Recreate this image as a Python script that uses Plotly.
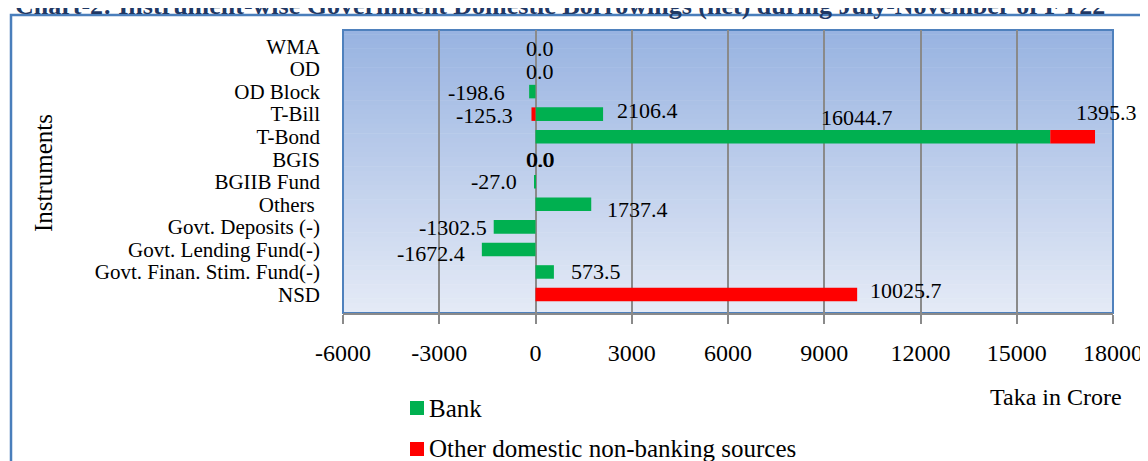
import plotly.graph_objects as go

# ---- data ----
instruments = ["WMA", "OD", "OD Block", "T-Bill", "T-Bond", "BGIS", "BGIIB Fund", "Others ",
               "Govt. Deposits (-)", "Govt. Lending Fund(-)", "Govt. Finan. Stim. Fund(-)", "NSD"]
bank = [0.0, 0.0, -198.6, 2106.4, 16044.7, 0.0, -27.0, 1737.4, -1302.5, -1672.4, 573.5, 0.0]
other = [0.0, 0.0, 0.0, -125.3, 1395.3, 0.0, 0.0, 0.0, 0.0, 0.0, 0.0, 10025.7]
x_ticks = [-6000, -3000, 0, 3000, 6000, 9000, 12000, 15000, 18000]

FONT = "Liberation Serif, Times New Roman, serif"
GREEN = "#00B050"
RED = "#FF0000"

OFF = 8  # page body margin
W, H = 1148, 461
L, R, T, B = 343 - OFF, 43, 30 - OFF, 156
PW, PH = W - L - R, H - T - B


def px(xp):
    return (xp - OFF - L) / PW


def py(yp):
    return (H - B - (yp - OFF)) / PH


fig = go.Figure()
fig.add_trace(go.Bar(y=instruments, x=bank, orientation="h", name="Bank",
                     marker=dict(color=GREEN, line=dict(width=0)), width=0.6,
                     showlegend=False))
fig.add_trace(go.Bar(y=instruments, x=other, orientation="h",
                     name="Other domestic non-banking sources",
                     marker=dict(color=RED, line=dict(width=0)), width=0.6,
                     showlegend=False))

shapes = []
# gradient background of plot area
N = 60
top = (152, 179, 225)
bot = (228, 234, 246)
for i in range(N):
    f = i / (N - 1)
    c = tuple(round(top[k] + (bot[k] - top[k]) * f) for k in range(3))
    shapes.append(dict(type="rect", xref="x domain", yref="y domain",
                       x0=0, x1=1, y0=1 - (i + 1) / N, y1=1 - i / N + 0.002,
                       fillcolor="rgb(%d,%d,%d)" % c, line=dict(width=0), layer="below"))
# plot border (blue)
shapes.append(dict(type="rect", xref="x domain", yref="y domain", x0=0, x1=1, y0=0, y1=1,
                   line=dict(color="#4F81BD", width=2), layer="below"))
# outer chart border
shapes.append(dict(type="rect", xref="paper", yref="paper",
                   x0=px(11), x1=px(1200), y0=py(520), y1=py(15),
                   line=dict(color="#4A7EBB", width=2.5)))
# legend swatches
shapes.append(dict(type="rect", xref="paper", yref="paper",
                   x0=px(410), x1=px(424), y0=py(415), y1=py(401),
                   fillcolor=GREEN, line=dict(width=0)))
shapes.append(dict(type="rect", xref="paper", yref="paper",
                   x0=px(410), x1=px(424), y0=py(456), y1=py(442),
                   fillcolor=RED, line=dict(width=0)))

ann = []
LBL = dict(family=FONT, size=22, color="black")


def lab(x, y, text, xanchor, xshift=0, yshift=0):
    ann.append(dict(x=x, y=y, xref="x", yref="y", text=text, showarrow=False,
                    xanchor=xanchor, yanchor="middle", xshift=xshift, yshift=yshift,
                    font=LBL))


# zero-value labels
lab(0, instruments[0], "%.1f" % bank[0], "center", 4, -2)
lab(0, instruments[1], "%.1f" % bank[1], "center", 4, -2)
lab(0, instruments[5], "%.1f" % bank[5], "center", 4, 0)
lab(0, instruments[5], "%.1f" % other[5], "center", 5, 0)
# OD Block
lab(bank[2], instruments[2], "%.1f" % bank[2], "right", -22, -1)
# T-Bill
lab(other[3], instruments[3], "%.1f" % other[3], "right", -16, -1)
lab(bank[3], instruments[3], "%.1f" % bank[3], "left", 12, 4)
# T-Bond
lab(bank[4], instruments[4], "%.1f" % bank[4], "center", -193, 19)
lab(bank[4] + other[4], instruments[4], "%.1f" % other[4], "center", 11, 24)
# BGIIB
lab(bank[6], instruments[6], "%.1f" % bank[6], "right", -16, 0)
# Others
lab(bank[7], instruments[7], "%.1f" % bank[7], "left", 14, -5)
# Govt deposits
lab(bank[8], instruments[8], "%.1f" % bank[8], "right", -5, -1)
# Govt lending
lab(bank[9], instruments[9], "%.1f" % bank[9], "right", -15, -4)
# Stim fund
lab(bank[10], instruments[10], "%.1f" % bank[10], "left", 15, 0)
# NSD
lab(other[11], instruments[11], "%.1f" % other[11], "left", 11, 4)

# axis titles / legend text / chart title
ann.append(dict(x=px(43), y=py(173), xref="paper", yref="paper", text="Instruments",
                textangle=-90, showarrow=False, xanchor="center", yanchor="middle",
                font=dict(family=FONT, size=25, color="black")))
ann.append(dict(x=px(1124), y=py(397), xref="paper", yref="paper", text="Taka in Crore",
                showarrow=False, xanchor="right", yanchor="middle",
                font=dict(family=FONT, size=24, color="black")))
ann.append(dict(x=px(427), y=py(408), xref="paper", yref="paper", text="Bank",
                showarrow=False, xanchor="left", yanchor="middle",
                font=dict(family=FONT, size=25, color="black")))
ann.append(dict(x=px(427), y=py(448), xref="paper", yref="paper",
                text="Other domestic non-banking sources",
                showarrow=False, xanchor="left", yanchor="middle",
                font=dict(family=FONT, size=25, color="black")))
ann.append(dict(x=px(560), y=py(5), xref="paper", yref="paper",
                text="<b>Chart-2: Instrument-wise Government Domestic Borrowings (net) during July-November of FY22</b>",
                showarrow=False, xanchor="center", yanchor="middle",
                font=dict(family=FONT, size=26, color="#1F3864")))

fig.update_layout(
    width=W, height=H,
    margin=dict(l=L, r=R, t=T, b=B, pad=0, autoexpand=False),
    paper_bgcolor="white", plot_bgcolor="rgba(0,0,0,0)",
    barmode="relative", bargap=0.4,
    shapes=shapes, annotations=ann,
    showlegend=False,
    font=dict(family=FONT, color="black"),
)
fig.update_xaxes(range=[-6000, 18000], tickmode="array", tickvals=x_ticks,
                 ticktext=[str(v) for v in x_ticks], automargin=False,
                 showgrid=True, gridcolor="#8A8A8A", gridwidth=2, zeroline=False,
                 ticks="outside", ticklen=9, tickwidth=2, tickcolor="#8A8A8A",
                 showline=True, linecolor="#8A8A8A", linewidth=2,
                 ticklabelstandoff=8,
                 tickfont=dict(family=FONT, size=24, color="black"))
fig.update_yaxes(categoryorder="array", categoryarray=instruments, autorange="reversed",
                 tickmode="array", tickvals=instruments, ticktext=instruments,
                 automargin=False,
                 showgrid=False, zeroline=False, showline=False, ticks="",
                 ticklabelstandoff=22,
                 tickfont=dict(family=FONT, size=21, color="black"))

fig.write_html("out.html")
